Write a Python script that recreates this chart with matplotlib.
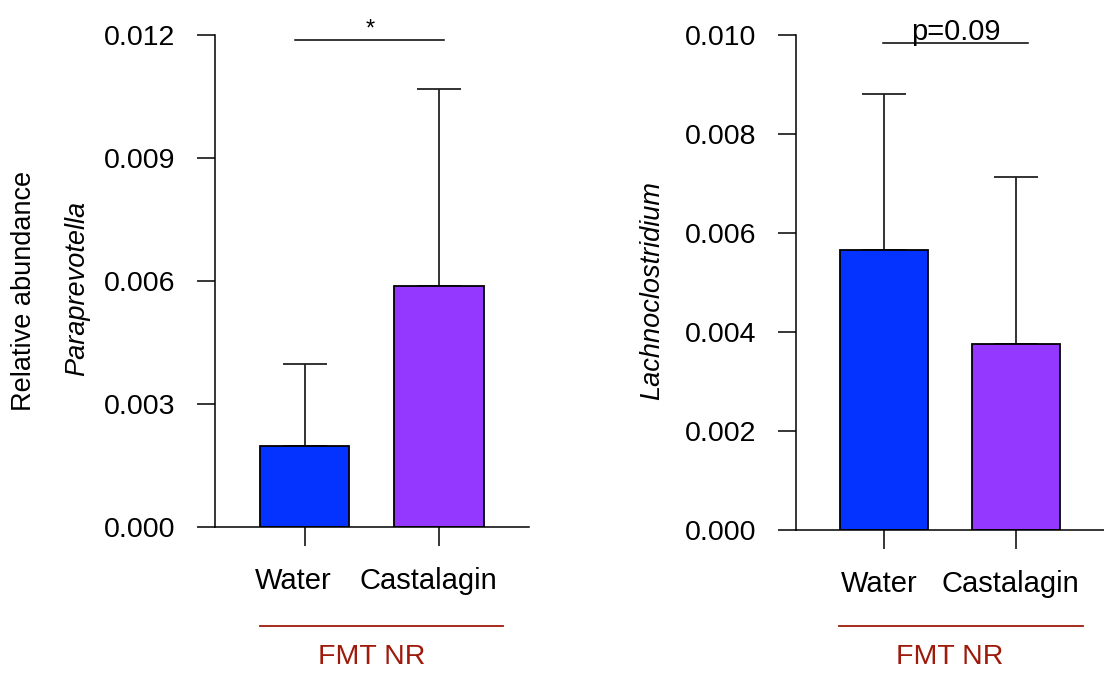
import matplotlib
matplotlib.use("Agg")
import matplotlib.pyplot as plt
from matplotlib.transforms import ScaledTranslation, blended_transform_factory

plt.rcParams['font.family'] = ['Liberation Sans', 'DejaVu Sans']

# group means and upper SD for each genus
groups = ["Water", "Castalagin"]
bar_colors = ["#0433FF", "#9437FF"]

para_mean = [0.00198, 0.00589]
para_sd = [0.00200, 0.00479]

lachno_mean = [0.00565, 0.00376]
lachno_sd = [0.00316, 0.00336]

para_ticks = [0.000, 0.003, 0.006, 0.009, 0.012]
lachno_ticks = [0.000, 0.002, 0.004, 0.006, 0.008, 0.010]

RED = "#9E1A0C"

fig = plt.figure(figsize=(11.04, 6.86), dpi=100)
W, H = 1104, 686


def px_axes(left, right, bottom, top):
    return fig.add_axes([left / W, 1 - bottom / H, (right - left) / W, (bottom - top) / H])


def draw_panel(ax, means, sds, yticks, xlim, label_shift, bracket,
               sig_y, sig_x, sig_text, sig_fs, sig_pos):
    x = [0, 1]
    ax.bar(x, means, width=0.665, color=bar_colors, edgecolor="black", linewidth=1.3, zorder=2)
    ax.errorbar(x, means, yerr=[[0, 0], sds], fmt="none", ecolor="#222222",
                elinewidth=1.3, capsize=16, capthick=1.3, zorder=1)

    ax.set_xlim(*xlim)
    ax.set_ylim(yticks[0], yticks[-1])
    ax.set_yticks(yticks)
    ax.set_yticklabels([f"{t:.3f}" for t in yticks])
    ax.set_xticks(x)
    ax.set_xticklabels(groups)

    for side in ["top", "right"]:
        ax.spines[side].set_visible(False)
    for side in ["left", "bottom"]:
        ax.spines[side].set_linewidth(1.1)
    ax.tick_params(axis="y", length=13, width=1.1, pad=16, labelsize=20.5)
    ax.tick_params(axis="x", length=13.7, width=1.1, pad=15, labelsize=21)

    shift = ScaledTranslation(label_shift / 100, 0, fig.dpi_scale_trans)
    for lab in ax.get_xticklabels():
        lab.set_transform(lab.get_transform() + shift)

    # significance bar
    ax.plot(sig_x, [sig_y, sig_y], color="black", lw=1.1, clip_on=False)
    ax.text(sig_pos[0], sig_y + sig_pos[1], sig_text, ha="center",
            va="baseline", fontsize=sig_fs)

    # group bracket under the axis
    tr = blended_transform_factory(ax.transData, fig.transFigure)
    ax.plot(bracket, [1 - 626 / H] * 2, color=RED, lw=1.3, transform=tr, clip_on=False)
    ax.text(0.5, 1 - 657 / H, "FMT NR", color=RED, fontsize=20.5, ha="center", va="center",
            transform=tr)


ax1 = px_axes(215.4, 528.6, 527, 35)
draw_panel(ax1, para_mean, para_sd, para_ticks, (-0.664, 1.667), -11, [-0.33, 1.48],
           0.011885, [-0.072, 1.034], "*", 17, (0.49, 0.0001))

ax2 = px_axes(796.3, 1110, 530.3, 34.7)
draw_panel(ax2, lachno_mean, lachno_sd, lachno_ticks, (-0.664, 1.714), -5, [-0.338, 1.509],
           0.00983, [-0.009, 1.092], "p=0.09", 21, (0.547, 0.00006))

fig.text(24 / W, 1 - 291 / H, "Relative abundance", rotation=90, fontsize=19.5,
         ha="center", va="center")
fig.text(77 / W, 1 - 288 / H, "Paraprevotella", rotation=90, fontsize=19.5,
         style="italic", ha="center", va="center")
fig.text(652 / W, 1 - 291 / H, "Lachnoclostridium", rotation=90, fontsize=19.5,
         style="italic", ha="center", va="center")

fig.savefig("out.png", dpi=100)
